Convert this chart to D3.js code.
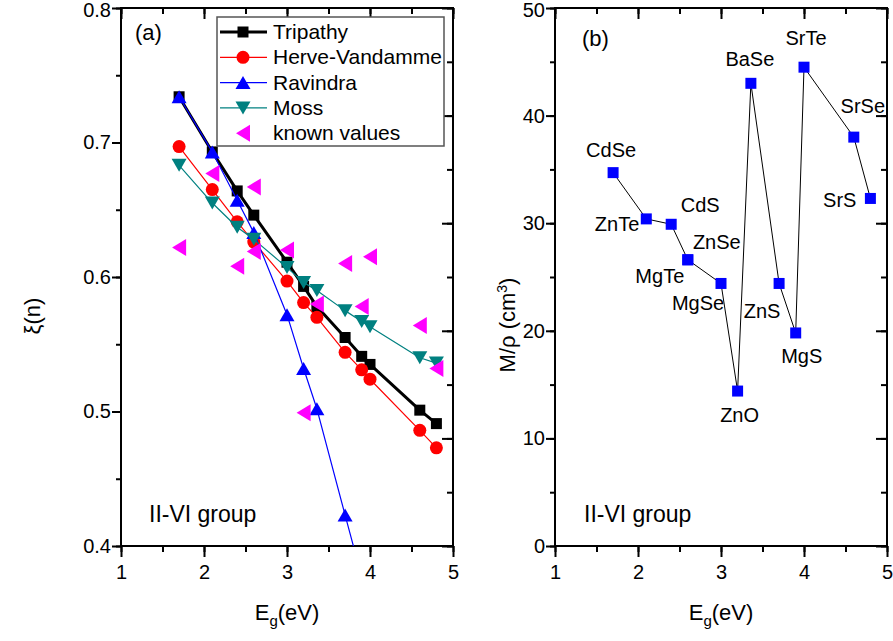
<!DOCTYPE html>
<html><head><meta charset="utf-8">
<script src="https://cdn.jsdelivr.net/npm/d3@7"></script>
<style>
html,body{margin:0;padding:0;background:#fff;}
text{font-family:"Liberation Sans",Arial,sans-serif;fill:#000;}
</style></head>
<body><svg id="c" width="893" height="641"></svg>
<script>
// ---------- data ----------
const eg        = [1.7, 2.1, 2.4, 2.6, 3.0, 3.2, 3.36, 3.7, 3.9, 4.0, 4.6, 4.8];
const tripathy  = [0.734, 0.693, 0.664, 0.646, 0.611, 0.593, 0.578, 0.555, 0.541, 0.535, 0.501, 0.491];
const herve     = [0.697, 0.665, 0.641, 0.626, 0.597, 0.581, 0.570, 0.544, 0.531, 0.524, 0.486, 0.473];
const moss      = [0.683, 0.655, 0.637, 0.628, 0.607, 0.596, 0.590, 0.575, 0.567, 0.563, 0.540, 0.536];
const ravindraEg = [1.7, 2.1, 2.4, 2.6, 3.0, 3.2, 3.36, 3.7, 3.9];
const ravindra   = [0.734, 0.693, 0.657, 0.633, 0.572, 0.532, 0.502, 0.423, 0.377];
const knownEg   = [1.7, 2.1, 2.4, 2.6, 2.6, 3.0, 3.2, 3.36, 3.7, 3.9, 4.0, 4.6, 4.8];
const known     = [0.622, 0.677, 0.608, 0.619, 0.667, 0.620, 0.499, 0.580, 0.610, 0.578, 0.615, 0.564, 0.532];

const compounds = ["CdSe","ZnTe","CdS","ZnSe","MgTe","MgSe","ZnO","BaSe","ZnS","MgS","SrTe","SrSe","SrS"];
const compEg    = [1.7, 2.1, 2.4, 2.6, 2.6, 3.0, 3.2, 3.36, 3.7, 3.9, 4.0, 4.6, 4.8];
const molarVol  = [34.7, 30.4, 29.9, 26.6, 26.6, 24.4, 14.4, 43.0, 24.4, 19.8, 44.5, 38.0, 32.3];

const xTicks = [1, 2, 3, 4, 5];
const yTicksA = [0.4, 0.5, 0.6, 0.7, 0.8];
const yTicksB = [0, 10, 20, 30, 40, 50];

// ---------- presentation ----------
const labelPos = {
  CdSe:{dx:-2,dy:-16,a:"middle"}, ZnTe:{dx:-7,dy:12,a:"end"}, CdS:{dx:29,dy:-12,a:"middle"},
  ZnSe:{dx:29,dy:-11,a:"middle"}, MgTe:{dx:-28,dy:23,a:"middle"}, MgSe:{dx:-23,dy:27,a:"middle"},
  ZnO:{dx:2,dy:31,a:"middle"}, BaSe:{dx:-1,dy:-17,a:"middle"}, ZnS:{dx:-17,dy:35,a:"middle"},
  MgS:{dx:6,dy:30,a:"middle"}, SrTe:{dx:2,dy:-22,a:"middle"}, SrSe:{dx:9,dy:-24,a:"middle"},
  SrS:{dx:-14,dy:9,a:"end"}
};

const svg = d3.select("#c");
const FONT = '"Liberation Sans",Arial,sans-serif';

const xA = d3.scaleLinear([1,5],[121,453]);
const yA = d3.scaleLinear([0.4,0.8],[546,8]);
const yA2 = d3.scaleLinear([0,50],[546,8]); // right-side ticks of panel (a)
const xB = d3.scaleLinear([1,5],[555,887]);
const yB = d3.scaleLinear([0,50],[546,8]);

function minorVals(scale, step){
  const [a,b] = scale.domain(); const out=[];
  for(let v=a; v<=b+1e-9; v+=step) out.push(+v.toFixed(6));
  return out;
}

function drawFrame(x, y, yRight, yMajors, yMinorStep, yFmt, yRightStep, yRightMinor){
  const g = svg.append("g");
  const [x0,x1] = x.range(); const [y0,y1] = y.range();
  g.append("g").attr("transform",`translate(0,${y0})`)
    .call(d3.axisBottom(x).tickValues(minorVals(x,0.5)).tickSize(6).tickFormat(""));
  g.append("g").attr("transform",`translate(0,${y0})`)
    .call(d3.axisBottom(x).tickValues(xTicks).tickSize(11).tickPadding(8).tickFormat(d3.format("d")));
  g.append("g").attr("transform",`translate(0,${y1})`)
    .call(d3.axisTop(x).tickValues(minorVals(x,0.5)).tickSize(-6).tickFormat(""));
  g.append("g").attr("transform",`translate(0,${y1})`)
    .call(d3.axisTop(x).tickValues(xTicks).tickSize(-11).tickFormat(""));
  g.append("g").attr("transform",`translate(${x0},0)`)
    .call(d3.axisLeft(y).tickValues(minorVals(y,yMinorStep)).tickSize(5).tickFormat(""));
  const lMaj = g.append("g").attr("transform",`translate(${x0},0)`)
    .call(d3.axisLeft(y).tickValues(yMajors).tickSize(9).tickPadding(1).tickFormat(yFmt));
  g.append("g").attr("transform",`translate(${x1},0)`)
    .call(d3.axisRight(yRight).tickValues(minorVals(yRight,yRightMinor)).tickSize(-6).tickFormat(""));
  g.append("g").attr("transform",`translate(${x1},0)`)
    .call(d3.axisRight(yRight).tickValues(minorVals(yRight,yRightStep)).tickSize(-11).tickFormat(""));
  g.selectAll(".domain").remove();
  g.selectAll(".tick line").attr("stroke","#000").attr("stroke-width",2);
  g.selectAll(".tick text").attr("font-size",20).attr("font-family",FONT).attr("fill","#000");
  lMaj.selectAll(".tick text").filter(d=>d===yMajors[yMajors.length-1]).attr("dy","0.42em");
  g.append("rect").attr("x",x0).attr("y",y1).attr("width",x1-x0).attr("height",y0-y1)
    .attr("fill","none").attr("stroke","#000").attr("stroke-width",2);
  return g;
}

// ---------- marker shapes ----------
function sq(s){const h=s/2;return `M${-h},${-h}H${h}V${h}H${-h}Z`;}
function triUp(w,h){return `M0,${-h/2}L${w/2},${h/2}L${-w/2},${h/2}Z`;}
function triDown(w,h){return `M0,${h/2}L${w/2},${-h/2}L${-w/2},${-h/2}Z`;}
function triLeft(w,h){return `M${-w/2},0L${w/2},${-h/2}L${w/2},${h/2}Z`;}

// ---------- panel (a) ----------
drawFrame(xA, yA, yA2, yTicksA, 0.05, d3.format(".1f"), 10, 5);

svg.append("defs").append("clipPath").attr("id","clipA")
  .append("rect").attr("x",121).attr("y",8).attr("width",332).attr("height",538);

const series = [
  {name:"Tripathy", xs:eg, ys:tripathy, color:"#000000", lw:3, shape:sq(11), line:true},
  {name:"Herve-Vandamme", xs:eg, ys:herve, color:"#ff0000", lw:1.2, shape:"circle", line:true},
  {name:"Ravindra", xs:ravindraEg, ys:ravindra, color:"#0000ff", lw:1.2, shape:triUp(15,13), line:true},
  {name:"Moss", xs:eg, ys:moss, color:"#008080", lw:1.2, shape:triDown(15,13), line:true},
  {name:"known values", xs:knownEg, ys:known, color:"#ff00ff", lw:0, shape:triLeft(14,17), line:false}
];

const pA = svg.append("g");
series.forEach(s=>{
  const pts = s.xs.map((x,i)=>[x, s.ys[i]]);
  if(s.line){
    pA.append("path").datum(pts).attr("clip-path","url(#clipA)")
      .attr("d", d3.line().x(d=>xA(d[0])).y(d=>yA(d[1])))
      .attr("fill","none").attr("stroke",s.color).attr("stroke-width",s.lw).attr("stroke-linejoin","round");
  }
  const vis = pts.filter(d=>d[1]>=0.4);
  if(s.shape==="circle"){
    pA.selectAll(null).data(vis).join("circle")
      .attr("cx",d=>xA(d[0])).attr("cy",d=>yA(d[1])).attr("r",6.5).attr("fill",s.color);
  } else {
    pA.selectAll(null).data(vis).join("path")
      .attr("transform",d=>`translate(${xA(d[0])},${yA(d[1])})`).attr("d",s.shape).attr("fill",s.color);
  }
});

// legend
const lg = svg.append("g");
lg.append("rect").attr("x",217).attr("y",17).attr("width",227).attr("height",129)
  .attr("fill","#fff").attr("stroke","#555").attr("stroke-width",1.5);
series.forEach((s,i)=>{
  const cy = 32 + i*25.3;
  if(s.line) lg.append("line").attr("x1",220).attr("x2",267).attr("y1",cy).attr("y2",cy)
      .attr("stroke",s.color).attr("stroke-width",s.lw);
  if(s.shape==="circle") lg.append("circle").attr("cx",243).attr("cy",cy).attr("r",6.5).attr("fill",s.color);
  else lg.append("path").attr("transform",`translate(243,${cy})`).attr("d",s.shape).attr("fill",s.color);
  lg.append("text").attr("x",273).attr("y",cy+7).attr("font-size",21).text(s.name);
});

svg.append("text").attr("x",135).attr("y",40).attr("font-size",22).text("(a)");
svg.append("text").attr("x",149).attr("y",522).attr("font-size",23).text("II-VI group");

const tA = svg.append("text").attr("x",287).attr("y",620).attr("font-size",22).attr("text-anchor","middle");
tA.append("tspan").text("E");
tA.append("tspan").attr("font-size",15).attr("dy",6).text("g");
tA.append("tspan").attr("dy",-6).text("(eV)");
svg.append("text").attr("transform","translate(40,316) rotate(-90)").attr("font-size",22)
  .attr("text-anchor","middle").text("ξ(n)");

// ---------- panel (b) ----------
drawFrame(xB, yB, yB, yTicksB, 5, d3.format("d"), 10, 5);

const pB = svg.append("g");
const ptsB = compounds.map((n,i)=>({n, x:compEg[i], y:molarVol[i]}));
pB.append("path").datum(ptsB)
  .attr("d", d3.line().x(d=>xB(d.x)).y(d=>yB(d.y)))
  .attr("fill","none").attr("stroke","#000").attr("stroke-width",1);
pB.selectAll(null).data(ptsB).join("path")
  .attr("transform",d=>`translate(${xB(d.x)},${yB(d.y)})`).attr("d",sq(11)).attr("fill","#0000ff");
pB.selectAll(null).data(ptsB).join("text")
  .attr("x",d=>xB(d.x)+labelPos[d.n].dx).attr("y",d=>yB(d.y)+labelPos[d.n].dy)
  .attr("text-anchor",d=>labelPos[d.n].a).attr("font-size",20).text(d=>d.n);

svg.append("text").attr("x",582).attr("y",46).attr("font-size",22).text("(b)");
svg.append("text").attr("x",584).attr("y",522).attr("font-size",23).text("II-VI group");

const tB = svg.append("text").attr("x",721).attr("y",620).attr("font-size",22).attr("text-anchor","middle");
tB.append("tspan").text("E");
tB.append("tspan").attr("font-size",15).attr("dy",6).text("g");
tB.append("tspan").attr("dy",-6).text("(eV)");
const tY = svg.append("text").attr("transform","translate(515,325) rotate(-90)").attr("font-size",22)
  .attr("text-anchor","middle");
tY.append("tspan").text("M/ρ (cm");
tY.append("tspan").attr("font-size",14).attr("dy",-8).text("3");
tY.append("tspan").attr("dy",8).text(")");
</script></body></html>
